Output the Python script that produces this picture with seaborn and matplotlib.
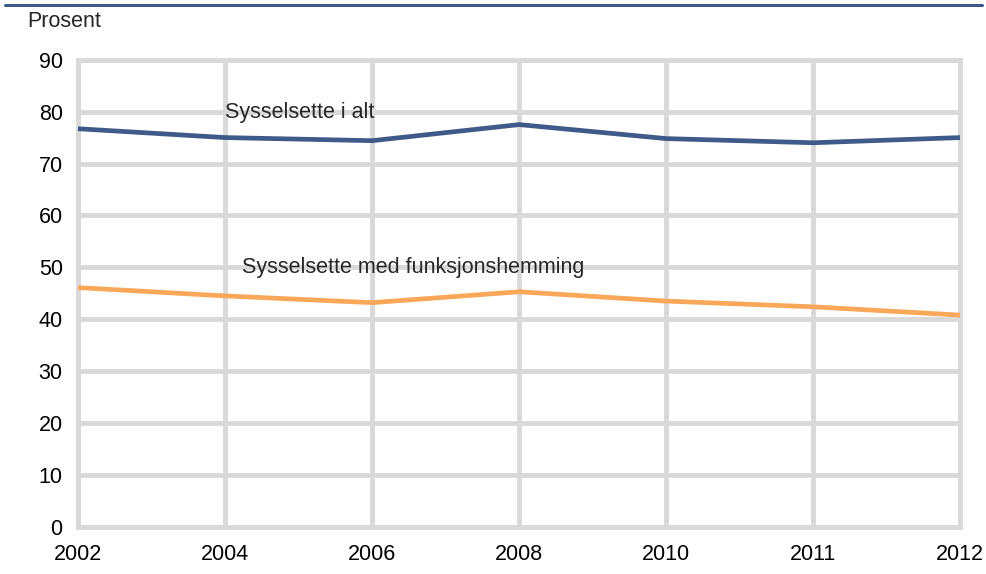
import matplotlib.pyplot as plt
import matplotlib.lines as mlines
import seaborn as sns
import pandas as pd

years = ["2002", "2004", "2006", "2008", "2010", "2011", "2012"]
alle = [76.7, 75.0, 74.4, 77.5, 74.8, 74.0, 75.0]
funk = [46.1, 44.5, 43.2, 45.3, 43.5, 42.4, 40.8]
series_names = ["Sysselsette i alt", "Sysselsette med funksjonshemming"]

BLUE = "#3f5a8a"
ORANGE = "#f9a85a"
GRID = "#d9d9d9"
FS = 15.5

sns.set_style("white")
plt.rcParams['font.family'] = ['Liberation Sans', 'DejaVu Sans']

df = pd.DataFrame({
    "pos": list(range(len(years))) * 2,
    "verdi": alle + funk,
    "serie": [series_names[0]] * len(years) + [series_names[1]] * len(years),
})

fig = plt.figure(figsize=(9.87, 5.74), dpi=100)
ax = fig.add_axes([0.079, 0.082, 0.894, 0.814])

sns.lineplot(data=df, x="pos", y="verdi", hue="serie",
             palette=[BLUE, ORANGE], linewidth=3.4, legend=False, ax=ax,
             zorder=3)

ax.set_xlim(0, len(years) - 1)
ax.set_ylim(0, 90)
ax.set_xticks(range(len(years)))
ax.set_xticklabels(years)
ax.set_yticks(range(0, 91, 10))
ax.tick_params(axis="both", length=0, labelsize=FS, colors="black")
ax.tick_params(axis="x", pad=12)
ax.tick_params(axis="y", pad=11)
ax.set_xlabel("")
ax.set_ylabel("")

ax.grid(True, color=GRID, linewidth=3.5, zorder=0)
for s in ax.spines.values():
    s.set_visible(True)
    s.set_color(GRID)
    s.set_linewidth(3.5)

ax.text(1.0, 79.8, series_names[0], fontsize=FS, va="center", ha="left")
ax.text(1.115, 49.9, series_names[1], fontsize=FS, va="center", ha="left")

fig.text(0.028, 0.962, "Prosent", fontsize=FS, va="center", ha="left")
fig.add_artist(mlines.Line2D([0.005, 0.995], [0.991, 0.991], color=BLUE,
                             linewidth=2.2, transform=fig.transFigure))

fig.savefig("out.png", dpi=100)
